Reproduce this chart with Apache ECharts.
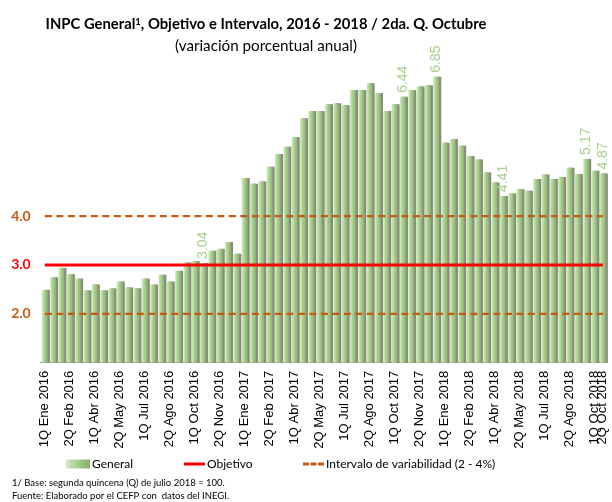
<!DOCTYPE html>
<html>
<head>
<meta charset="utf-8">
<script src="https://cdn.jsdelivr.net/npm/echarts@6/dist/echarts.min.js"></script>
<style>html,body{margin:0;padding:0;background:#fff}#c{width:612px;height:502px}</style>
</head>
<body>
<div id="c"></div>
<script>
const categories = [
 '1Q Ene 2016','2Q Ene 2016','1Q Feb 2016','2Q Feb 2016','1Q Mar 2016','2Q Mar 2016','1Q Abr 2016','2Q Abr 2016','1Q May 2016','2Q May 2016','1Q Jun 2016','2Q Jun 2016',
 '1Q Jul 2016','2Q Jul 2016','1Q Ago 2016','2Q Ago 2016','1Q Sep 2016','2Q Sep 2016','1Q Oct 2016','2Q Oct 2016','1Q Nov 2016','2Q Nov 2016','1Q Dic 2016','2Q Dic 2016',
 '1Q Ene 2017','2Q Ene 2017','1Q Feb 2017','2Q Feb 2017','1Q Mar 2017','2Q Mar 2017','1Q Abr 2017','2Q Abr 2017','1Q May 2017','2Q May 2017','1Q Jun 2017','2Q Jun 2017',
 '1Q Jul 2017','2Q Jul 2017','1Q Ago 2017','2Q Ago 2017','1Q Sep 2017','2Q Sep 2017','1Q Oct 2017','2Q Oct 2017','1Q Nov 2017','2Q Nov 2017','1Q Dic 2017','2Q Dic 2017',
 '1Q Ene 2018','2Q Ene 2018','1Q Feb 2018','2Q Feb 2018','1Q Mar 2018','2Q Mar 2018','1Q Abr 2018','2Q Abr 2018','1Q May 2018','2Q May 2018','1Q Jun 2018','2Q Jun 2018',
 '1Q Jul 2018','2Q Jul 2018','1Q Ago 2018','2Q Ago 2018','1Q Sep 2018','2Q Sep 2018','1Q Oct 2018','2Q Oct 2018'
];
const general = [
 2.49,2.75,2.94,2.81,2.72,2.48,2.60,2.48,2.52,2.66,2.54,2.52,
 2.72,2.60,2.80,2.66,2.88,3.05,3.08,3.04,3.29,3.33,3.47,3.23,
 4.78,4.66,4.71,5.01,5.27,5.42,5.62,6.00,6.15,6.15,6.29,6.31,
 6.27,6.58,6.58,6.72,6.52,6.15,6.29,6.44,6.58,6.65,6.68,6.85,
 5.50,5.58,5.44,5.23,5.16,4.89,4.69,4.41,4.46,4.55,4.52,4.76,
 4.85,4.76,4.80,4.99,4.86,5.17,4.93,4.87
];
const labeledIdx = [19,43,47,55,65,67];
const objetivo = categories.map(() => 3.0);
const intervaloBajo = categories.map(() => 2.0);
const intervaloAlto = categories.map(() => 4.0);
const yTickLabels = {2:'2.0',3:'3.0',4:'4.0'};

const FONT = "Lato, sans-serif";
const chart = echarts.init(document.getElementById('c'), null, {renderer:'canvas'});
const INTERVALO = 'Intervalo de variabilidad (2 - 4%)';
const LAST = categories.length - 1;
const showLbl = (i) => i % 3 === 0;
const barColor = new echarts.graphic.LinearGradient(0,0,1,0,[
  {offset:0,color:'#d4eac3'},{offset:0.45,color:'#a9d18e'},{offset:1,color:'#86ad6c'}]);
const dashOrange = {color:'#c55a11', width:2.2, type:[7,4.5]};
const legText = {fontSize:12, fontFamily:FONT, color:'#000', padding:[0,0,0,-3]};
const xLabel = {rotate:90, hideOverlap:false, color:'#000', fontSize:13, fontFamily:'Liberation Sans', margin:8};

chart.setOption({
  animation:false,
  grid:{left:40.7, right:5, top:69.5, bottom:139.3, containLabel:false},
  xAxis:[{
    type:'category', data:categories, boundaryGap:true,
    axisLine:{lineStyle:{color:'#868686', width:1}},
    axisTick:{interval:(i)=>showLbl(i) || i===LAST, length:4, lineStyle:{color:'#868686'}},
    axisLabel:Object.assign({interval:(i)=>showLbl(i)}, xLabel)
  },{
    type:'category', data:categories, boundaryGap:true, position:'bottom',
    axisLine:{show:false}, axisTick:{show:false},
    axisLabel:Object.assign({interval:(i)=>i===LAST}, xLabel)
  }],
  yAxis:{
    type:'value', min:1, max:7, interval:1,
    axisLine:{show:false}, axisTick:{show:false}, splitLine:{show:false},
    axisLabel:{margin:10, formatter:(v)=> yTickLabels[v] ? (v===3 ? '{r|'+yTickLabels[v]+'}' : '{o|'+yTickLabels[v]+'}') : '',
      rich:{r:{color:'#ff0000', fontWeight:'bold', fontSize:14, fontFamily:FONT}, o:{color:'#c55a11', fontWeight:'bold', fontSize:14, fontFamily:FONT}}}
  },
  legend:[
    {left:61, top:453, itemWidth:24, itemHeight:9, textStyle:legText, data:[{name:'General', icon:'rect'}]},
    {left:179, top:453, itemWidth:21, itemHeight:3, textStyle:legText, data:[{name:'Objetivo', icon:'rect'}]},
    {left:298, top:453, itemWidth:21, itemHeight:3, textStyle:legText,
     data:[{name:INTERVALO, icon:'path://M0,0h6v3h-6z M7.5,0h6v3h-6z M15,0h6v3h-6z'}]}
  ],
  series:[
    {name:'General', type:'bar', barWidth:6,
     data: general.map((v,i)=> labeledIdx.includes(i) ? {value:v, label:{show:true}} : v),
     itemStyle:{color:barColor, shadowColor:'#8a8a80', shadowOffsetX:2, shadowOffsetY:0, shadowBlur:0},
     label:{show:false, position:'top', rotate:90, align:'left', verticalAlign:'middle', distance:4,
       color:'#a9d18e', fontSize:14, fontFamily:'Liberation Sans', formatter:(p)=>p.value.toFixed(2)},
     z:2},
    {name:'Objetivo', type:'line', data:objetivo, symbol:'none', lineStyle:{color:'#ff0000', width:3}, itemStyle:{color:'#ff0000'}, z:3},
    {name:INTERVALO, type:'line', data:intervaloBajo, symbol:'none', lineStyle:dashOrange, itemStyle:{color:'#c55a11'}, z:3},
    {name:INTERVALO, type:'line', data:intervaloAlto, symbol:'none', lineStyle:dashOrange, itemStyle:{color:'#c55a11'}, z:3}
  ],
  graphic:[
    {type:'text', x:266, y:24, style:{
      text:'{b|INPC General}{s|1}{b|, Objetivo e Intervalo, 2016 - 2018 / 2da. Q. Octubre}',
      align:'center', verticalAlign:'middle',
      rich:{b:{fontSize:14.8, fontWeight:'bold', fontFamily:FONT, color:'#000'}, s:{fontSize:9.5, fontWeight:'bold', fontFamily:FONT, color:'#000', verticalAlign:'top'}}}},
    {type:'text', x:266, y:46, style:{text:'(variación porcentual anual)', align:'center', verticalAlign:'middle', fontSize:15.2, fontFamily:FONT, fill:'#000'}},
    {type:'text', left:12, top:478, style:{text:'1/ Base: segunda quincena (Q) de julio 2018 = 100.', fontSize:9.5, fontFamily:FONT, fill:'#000'}},
    {type:'text', left:12, top:491, style:{text:'Fuente: Elaborado por el CEFP con  datos del INEGI.', fontSize:9.5, fontFamily:FONT, fill:'#000'}}
  ]
});
</script>
</body>
</html>
